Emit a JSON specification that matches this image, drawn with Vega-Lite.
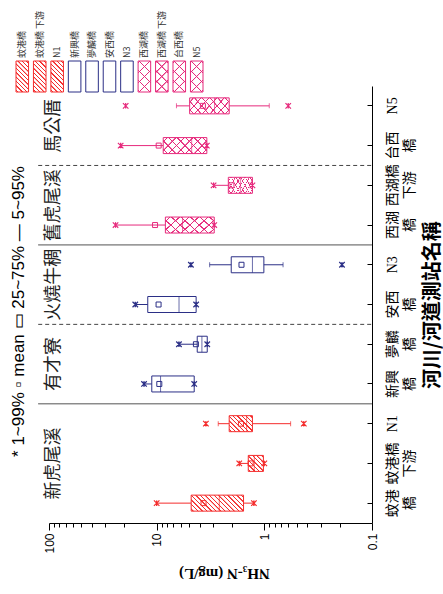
{
"$schema":"https://vega.github.io/schema/vega-lite/v6.json",
"width":323,"height":437,"autosize":"none",
"padding":{"left":49,"top":86,"right":71,"bottom":71},
"background":"white",
"config":{"view":{"stroke":null}},
"title":{"text":"*  1~99%   ▫ mean   ▭ 25~75%   — 5~95%","orient":"left","anchor":"middle","frame":"group","font":"Liberation Sans","fontSize":17,"fontWeight":"normal","color":"#000","offset":-12,"dx":-7},
"datasets":{
"box":[
{"station":"蚊港橋","grp":"red","p1":1.25,"p5":1.25,"q1":1.56,"med":2.62,"q3":4.78,"p95":10,"p99":10,"mean":3.67},
{"station":"蚊港橋下游","grp":"red","p1":1.0,"p5":1.02,"q1":1.02,"med":1.24,"q3":1.41,"p95":1.71,"p99":1.71,"mean":1.34},
{"station":"N1","grp":"red","p1":0.43,"p5":0.57,"q1":1.29,"med":1.46,"q3":2.12,"p95":2.68,"p99":3.49,"mean":1.65},
{"station":"新興橋","grp":"blue","p1":4.48,"p5":4.48,"q1":4.48,"med":9.2,"q3":11.1,"p95":13.1,"p99":13.1,"mean":9.45},
{"station":"夢麟橋","grp":"blue","p1":3.39,"p5":3.39,"q1":3.39,"med":3.8,"q3":4.2,"p95":6.21,"p99":6.21,"mean":4.32},
{"station":"安西橋","grp":"blue","p1":4.3,"p5":4.3,"q1":4.3,"med":6.2,"q3":12.1,"p95":15.8,"p99":15.8,"mean":9.6},
{"station":"N3","grp":"blue","p1":0.19,"p5":0.67,"q1":1.01,"med":1.29,"q3":2.03,"p95":3.22,"p99":4.81,"mean":1.63},
{"station":"西湖橋","grp":"pink","p1":2.92,"p5":2.92,"q1":2.92,"med":5.75,"q3":8.3,"p95":24.1,"p99":24.1,"mean":10.35},
{"station":"西湖橋下游","grp":"pink","p1":1.29,"p5":1.29,"q1":1.29,"med":1.67,"q3":2.16,"p95":2.96,"p99":2.96,"mean":2.02},
{"station":"台西橋","grp":"pink","p1":3.42,"p5":3.42,"q1":3.42,"med":4.73,"q3":8.69,"p95":21.6,"p99":21.6,"mean":9.58},
{"station":"N5","grp":"pink","p1":0.6,"p5":0.9,"q1":2.12,"med":2.9,"q3":4.94,"p95":6.55,"p99":19.4,"mean":3.72}
],
"groups":[
{"label":"新虎尾溪","at":"蚊港橋下游"},
{"label":"有才寮","at":"新興橋"},
{"label":"火燒牛稠","at":"安西橋"},
{"label":"舊虎尾溪","at":"西湖橋"},
{"label":"馬公厝","at":"台西橋"}
],
"seps":[
{"at":"N1","style":"solid"},
{"at":"夢麟橋","style":"dashed"},
{"at":"N3","style":"solid"},
{"at":"西湖橋下游","style":"dashed"}
]
},
"layer":[
{"data":{"name":"box"},
"layer":[
{"mark":{"type":"rule","strokeWidth":1},
"encoding":{
"y":{"field":"station","type":"nominal","scale":{"domain":["N5","台西橋","西湖橋下游","西湖橋","N3","安西橋","夢麟橋","新興橋","N1","蚊港橋下游","蚊港橋"],"paddingInner":0,"paddingOuter":0},
"axis":{"orient":"right","title":"河川/河道測站名稱","titleAngle":270,"titleBaseline":"top","titleAlign":"center","titleFont":"Noto Sans CJK TC","titleFontSize":20,"titleFontWeight":"bold","titleColor":"#000","titlePadding":6,
"labelExpr":"length(datum.label)==3?[substring(datum.label,0,2),substring(datum.label,2)]:length(datum.label)==5?[substring(datum.label,0,3),substring(datum.label,3)]:datum.label",
"labelAngle":270,"labelAlign":"center","labelBaseline":"top","labelLineHeight":17,"labelFontSize":14,
"labelFont":{"condition":{"test":"indexof(datum.value,'N')==0","value":"Liberation Serif"},"value":"Noto Sans CJK TC"},
"labelColor":"#000","labelPadding":18,"tickSize":-5,"tickColor":"#000","domainColor":"#000","labelOverlap":false}},
"x":{"field":"p5","type":"quantitative","scale":{"type":"log","domain":[0.1,100],"reverse":true,"nice":false},
"axis":{"title":"NH₃-N (mg/L)","values":[0.1,0.2,0.3,0.4,0.5,0.6,0.7,0.8,0.9,1,2,3,4,5,6,7,8,9,10,20,30,40,50,60,70,80,90,100],"format":"~g",
"labelExpr":"(datum.value==0.1||datum.value==1||datum.value==10||datum.value==100)?datum.label:''",
"labelAngle":270,"labelAlign":"right","labelBaseline":"middle","labelFont":"Liberation Sans","labelFontSize":12,"labelColor":"#000","labelPadding":3,"labelOverlap":false,"labelFlush":false,
"tickColor":"#000","tickSize":{"condition":{"test":"datum.value==0.1||datum.value==1||datum.value==10||datum.value==100","value":7},"value":4},
"domainColor":"#000","grid":false,
"titleFont":"Liberation Serif","titleFontSize":15,"titleFontWeight":"bold","titleColor":"#000","titleAngle":180,"titleBaseline":"bottom","titlePadding":12,"titleX":175}},
"x2":{"field":"p95"},
"color":{"field":"grp","type":"nominal","scale":{"domain":["red","blue","pink"],"range":["#f42c2c","#2b2f86","#e62a7c"]},"legend":null}}},
{"mark":{"type":"bar","size":16,"fill":"#ffffff","stroke":null},
"encoding":{"y":{"field":"station","type":"nominal"},"x":{"field":"q1","type":"quantitative"},"x2":{"field":"q3"}}},
{"transform":[{"filter":"datum.station=='蚊港橋'"}],
"mark":{"type":"bar","size":16,"stroke":null,"fill":{"gradient":"linear","x1":0,"y1":1,"x2":1.194,"y2":0.635,"stops":[
{"offset":0.0216,"color":"#fff"},{"offset":0.026,"color":"#f42c2c"},{"offset":0.0406,"color":"#f42c2c"},{"offset":0.045,"color":"#fff"},
{"offset":0.0883,"color":"#fff"},{"offset":0.0927,"color":"#f42c2c"},{"offset":0.1073,"color":"#f42c2c"},{"offset":0.1117,"color":"#fff"},
{"offset":0.155,"color":"#fff"},{"offset":0.1594,"color":"#f42c2c"},{"offset":0.174,"color":"#f42c2c"},{"offset":0.1784,"color":"#fff"},
{"offset":0.2216,"color":"#fff"},{"offset":0.226,"color":"#f42c2c"},{"offset":0.2406,"color":"#f42c2c"},{"offset":0.245,"color":"#fff"},
{"offset":0.2883,"color":"#fff"},{"offset":0.2927,"color":"#f42c2c"},{"offset":0.3073,"color":"#f42c2c"},{"offset":0.3117,"color":"#fff"},
{"offset":0.355,"color":"#fff"},{"offset":0.3594,"color":"#f42c2c"},{"offset":0.374,"color":"#f42c2c"},{"offset":0.3784,"color":"#fff"},
{"offset":0.4216,"color":"#fff"},{"offset":0.426,"color":"#f42c2c"},{"offset":0.4406,"color":"#f42c2c"},{"offset":0.445,"color":"#fff"},
{"offset":0.4883,"color":"#fff"},{"offset":0.4927,"color":"#f42c2c"},{"offset":0.5073,"color":"#f42c2c"},{"offset":0.5117,"color":"#fff"},
{"offset":0.555,"color":"#fff"},{"offset":0.5594,"color":"#f42c2c"},{"offset":0.574,"color":"#f42c2c"},{"offset":0.5784,"color":"#fff"},
{"offset":0.6216,"color":"#fff"},{"offset":0.626,"color":"#f42c2c"},{"offset":0.6406,"color":"#f42c2c"},{"offset":0.645,"color":"#fff"},
{"offset":0.6883,"color":"#fff"},{"offset":0.6927,"color":"#f42c2c"},{"offset":0.7073,"color":"#f42c2c"},{"offset":0.7117,"color":"#fff"},
{"offset":0.755,"color":"#fff"},{"offset":0.7594,"color":"#f42c2c"},{"offset":0.774,"color":"#f42c2c"},{"offset":0.7784,"color":"#fff"},
{"offset":0.8216,"color":"#fff"},{"offset":0.826,"color":"#f42c2c"},{"offset":0.8406,"color":"#f42c2c"},{"offset":0.845,"color":"#fff"},
{"offset":0.8883,"color":"#fff"},{"offset":0.8927,"color":"#f42c2c"},{"offset":0.9073,"color":"#f42c2c"},{"offset":0.9117,"color":"#fff"},
{"offset":0.955,"color":"#fff"},{"offset":0.9594,"color":"#f42c2c"},{"offset":0.974,"color":"#f42c2c"},{"offset":0.9784,"color":"#fff"}]}},
"encoding":{"y":{"field":"station","type":"nominal"},"x":{"field":"q1","type":"quantitative"},"x2":{"field":"q3"}}},
{"transform":[{"filter":"datum.station=='蚊港橋下游'"}],
"mark":{"type":"bar","size":16,"stroke":null,"fill":{"gradient":"linear","x1":0,"y1":1,"x2":0.97,"y2":-0.028,"stops":[
{"offset":0.0457,"color":"#fff"},{"offset":0.0553,"color":"#f42c2c"},{"offset":0.0875,"color":"#f42c2c"},{"offset":0.0971,"color":"#fff"},
{"offset":0.1886,"color":"#fff"},{"offset":0.1982,"color":"#f42c2c"},{"offset":0.2304,"color":"#f42c2c"},{"offset":0.24,"color":"#fff"},
{"offset":0.3314,"color":"#fff"},{"offset":0.341,"color":"#f42c2c"},{"offset":0.3732,"color":"#f42c2c"},{"offset":0.3828,"color":"#fff"},
{"offset":0.4743,"color":"#fff"},{"offset":0.4839,"color":"#f42c2c"},{"offset":0.5161,"color":"#f42c2c"},{"offset":0.5257,"color":"#fff"},
{"offset":0.6172,"color":"#fff"},{"offset":0.6268,"color":"#f42c2c"},{"offset":0.659,"color":"#f42c2c"},{"offset":0.6686,"color":"#fff"},
{"offset":0.76,"color":"#fff"},{"offset":0.7696,"color":"#f42c2c"},{"offset":0.8018,"color":"#f42c2c"},{"offset":0.8114,"color":"#fff"},
{"offset":0.9029,"color":"#fff"},{"offset":0.9125,"color":"#f42c2c"},{"offset":0.9447,"color":"#f42c2c"},{"offset":0.9543,"color":"#fff"}]}},
"encoding":{"y":{"field":"station","type":"nominal"},"x":{"field":"q1","type":"quantitative"},"x2":{"field":"q3"}}},
{"transform":[{"filter":"datum.station=='N1'"}],
"mark":{"type":"bar","size":16,"stroke":null,"fill":{"gradient":"linear","x1":0,"y1":1,"x2":1.145,"y2":0.21,"stops":[
{"offset":0.0352,"color":"#fff"},{"offset":0.0428,"color":"#f42c2c"},{"offset":0.0684,"color":"#f42c2c"},{"offset":0.076,"color":"#fff"},
{"offset":0.1463,"color":"#fff"},{"offset":0.1539,"color":"#f42c2c"},{"offset":0.1795,"color":"#f42c2c"},{"offset":0.1871,"color":"#fff"},
{"offset":0.2574,"color":"#fff"},{"offset":0.265,"color":"#f42c2c"},{"offset":0.2906,"color":"#f42c2c"},{"offset":0.2982,"color":"#fff"},
{"offset":0.3685,"color":"#fff"},{"offset":0.3761,"color":"#f42c2c"},{"offset":0.4017,"color":"#f42c2c"},{"offset":0.4093,"color":"#fff"},
{"offset":0.4796,"color":"#fff"},{"offset":0.4872,"color":"#f42c2c"},{"offset":0.5128,"color":"#f42c2c"},{"offset":0.5204,"color":"#fff"},
{"offset":0.5907,"color":"#fff"},{"offset":0.5983,"color":"#f42c2c"},{"offset":0.6239,"color":"#f42c2c"},{"offset":0.6315,"color":"#fff"},
{"offset":0.7018,"color":"#fff"},{"offset":0.7094,"color":"#f42c2c"},{"offset":0.735,"color":"#f42c2c"},{"offset":0.7426,"color":"#fff"},
{"offset":0.8129,"color":"#fff"},{"offset":0.8205,"color":"#f42c2c"},{"offset":0.8461,"color":"#f42c2c"},{"offset":0.8537,"color":"#fff"},
{"offset":0.924,"color":"#fff"},{"offset":0.9316,"color":"#f42c2c"},{"offset":0.9572,"color":"#f42c2c"},{"offset":0.9648,"color":"#fff"}]}},
"encoding":{"y":{"field":"station","type":"nominal"},"x":{"field":"q1","type":"quantitative"},"x2":{"field":"q3"}}},
{"transform":[{"filter":"datum.grp=='pink'"}],
"mark":{"type":"bar","size":16,"stroke":null,"fill":{"gradient":"linear","x1":0,"y1":1,"x2":1.204,"y2":0.562,"stops":[
{"offset":0.0581,"color":"#fff"},{"offset":0.0631,"color":"#e62a7c"},{"offset":0.0797,"color":"#e62a7c"},{"offset":0.0847,"color":"#fff"},
{"offset":0.201,"color":"#fff"},{"offset":0.206,"color":"#e62a7c"},{"offset":0.2226,"color":"#e62a7c"},{"offset":0.2276,"color":"#fff"},
{"offset":0.3438,"color":"#fff"},{"offset":0.3488,"color":"#e62a7c"},{"offset":0.3654,"color":"#e62a7c"},{"offset":0.3704,"color":"#fff"},
{"offset":0.4867,"color":"#fff"},{"offset":0.4917,"color":"#e62a7c"},{"offset":0.5083,"color":"#e62a7c"},{"offset":0.5133,"color":"#fff"},
{"offset":0.6296,"color":"#fff"},{"offset":0.6346,"color":"#e62a7c"},{"offset":0.6512,"color":"#e62a7c"},{"offset":0.6562,"color":"#fff"},
{"offset":0.7724,"color":"#fff"},{"offset":0.7774,"color":"#e62a7c"},{"offset":0.794,"color":"#e62a7c"},{"offset":0.799,"color":"#fff"},
{"offset":0.9153,"color":"#fff"},{"offset":0.9203,"color":"#e62a7c"},{"offset":0.9369,"color":"#e62a7c"},{"offset":0.9419,"color":"#fff"}]}},
"encoding":{"y":{"field":"station","type":"nominal"},"x":{"field":"q1","type":"quantitative"},"x2":{"field":"q3"}}},
{"transform":[{"filter":"datum.grp=='pink'"}],
"mark":{"type":"bar","size":16,"stroke":null,"fill":{"gradient":"linear","x1":0,"y1":0,"x2":1.204,"y2":0.438,"stops":[
{"offset":0.0581,"color":"rgba(230,42,124,0)"},{"offset":0.0631,"color":"#e62a7c"},{"offset":0.0797,"color":"#e62a7c"},{"offset":0.0847,"color":"rgba(230,42,124,0)"},
{"offset":0.201,"color":"rgba(230,42,124,0)"},{"offset":0.206,"color":"#e62a7c"},{"offset":0.2226,"color":"#e62a7c"},{"offset":0.2276,"color":"rgba(230,42,124,0)"},
{"offset":0.3438,"color":"rgba(230,42,124,0)"},{"offset":0.3488,"color":"#e62a7c"},{"offset":0.3654,"color":"#e62a7c"},{"offset":0.3704,"color":"rgba(230,42,124,0)"},
{"offset":0.4867,"color":"rgba(230,42,124,0)"},{"offset":0.4917,"color":"#e62a7c"},{"offset":0.5083,"color":"#e62a7c"},{"offset":0.5133,"color":"rgba(230,42,124,0)"},
{"offset":0.6296,"color":"rgba(230,42,124,0)"},{"offset":0.6346,"color":"#e62a7c"},{"offset":0.6512,"color":"#e62a7c"},{"offset":0.6562,"color":"rgba(230,42,124,0)"},
{"offset":0.7724,"color":"rgba(230,42,124,0)"},{"offset":0.7774,"color":"#e62a7c"},{"offset":0.794,"color":"#e62a7c"},{"offset":0.799,"color":"rgba(230,42,124,0)"},
{"offset":0.9153,"color":"rgba(230,42,124,0)"},{"offset":0.9203,"color":"#e62a7c"},{"offset":0.9369,"color":"#e62a7c"},{"offset":0.9419,"color":"rgba(230,42,124,0)"}]}},
"encoding":{"y":{"field":"station","type":"nominal"},"x":{"field":"q1","type":"quantitative"},"x2":{"field":"q3"}}},
{"mark":{"type":"bar","size":16,"filled":false,"strokeWidth":1},
"encoding":{"y":{"field":"station","type":"nominal"},"x":{"field":"q1","type":"quantitative"},"x2":{"field":"q3"},"color":{"field":"grp","type":"nominal","legend":null}}},
{"mark":{"type":"tick","size":16,"thickness":1},
"encoding":{"y":{"field":"station","type":"nominal"},"x":{"field":"med","type":"quantitative"},"color":{"field":"grp","type":"nominal","legend":null}}},
{"transform":[{"fold":["p5","p95"],"as":["k","v"]}],
"mark":{"type":"tick","size":5,"thickness":1},
"encoding":{"y":{"field":"station","type":"nominal"},"x":{"field":"v","type":"quantitative"},"color":{"field":"grp","type":"nominal","legend":null}}},
{"mark":{"type":"point","shape":"square","size":25,"filled":false,"strokeWidth":1,"opacity":1},
"encoding":{"y":{"field":"station","type":"nominal"},"x":{"field":"mean","type":"quantitative"},"color":{"field":"grp","type":"nominal","legend":null}}},
{"transform":[{"fold":["p1","p99"],"as":["k","v"]}],
"mark":{"type":"point","shape":"M-1,-1L1,1M-1,1L1,-1M0,-1L0,1","size":30,"filled":false,"strokeWidth":1.2,"opacity":1},
"encoding":{"y":{"field":"station","type":"nominal"},"x":{"field":"v","type":"quantitative"},"color":{"field":"grp","type":"nominal","legend":null}}},
{"data":{"name":"seps"},
"mark":{"type":"rule","strokeWidth":1,"color":"#444"},
"encoding":{"y":{"field":"at","type":"nominal","bandPosition":0},"x":{"datum":126},"x2":{"datum":0.1},
"strokeDash":{"field":"style","type":"nominal","scale":{"domain":["solid","dashed"],"range":[[1,0],[4,3]]},"legend":null}}},
{"data":{"name":"groups"},"transform":[{"filter":"datum.label!='新虎尾溪'"}],
"mark":{"type":"text","angle":270,"font":"Noto Sans CJK TC","fontSize":18,"align":"center","baseline":"middle","color":"#222"},
"encoding":{"y":{"field":"at","type":"nominal","bandPosition":0},"x":{"datum":90},"text":{"field":"label"}}},
{"data":{"name":"groups"},"transform":[{"filter":"datum.label=='新虎尾溪'"}],
"mark":{"type":"text","angle":270,"font":"Noto Sans CJK TC","fontSize":18,"align":"center","baseline":"middle","color":"#222"},
"encoding":{"y":{"field":"at","type":"nominal","bandPosition":0.5},"x":{"datum":90},"text":{"field":"label"}}}
]},
{"data":{"name":"box"},
"transform":[{"calculate":"length(datum.station)==5?substring(datum.station,0,3)+'  '+substring(datum.station,3):datum.station","as":"lab"}],
"layer":[
{"mark":{"type":"rect","fill":"#ffffff","stroke":null},
"encoding":{"x":{"field":"station","type":"nominal","scale":{"domain":["蚊港橋","蚊港橋下游","N1","新興橋","夢麟橋","安西橋","N3","西湖橋","西湖橋下游","台西橋","N5"],"range":[-33,154],"paddingInner":0.28,"paddingOuter":0},"axis":null},
"y":{"datum":0,"type":"quantitative","scale":{"domain":[0,1],"range":[6,-25]},"axis":null},"y2":{"datum":1}}},
{"transform":[{"filter":"datum.grp=='red'"}],
"mark":{"type":"rect","stroke":null,"fill":{"gradient":"linear","x1":0,"y1":1,"x2":0.489,"y2":-0.207,"stops":[
{"offset":0.0316,"color":"#fff"},{"offset":0.0385,"color":"#f42c2c"},{"offset":0.0615,"color":"#f42c2c"},{"offset":0.0684,"color":"#fff"},
{"offset":0.1316,"color":"#fff"},{"offset":0.1385,"color":"#f42c2c"},{"offset":0.1615,"color":"#f42c2c"},{"offset":0.1684,"color":"#fff"},
{"offset":0.2316,"color":"#fff"},{"offset":0.2385,"color":"#f42c2c"},{"offset":0.2615,"color":"#f42c2c"},{"offset":0.2684,"color":"#fff"},
{"offset":0.3316,"color":"#fff"},{"offset":0.3385,"color":"#f42c2c"},{"offset":0.3615,"color":"#f42c2c"},{"offset":0.3684,"color":"#fff"},
{"offset":0.4316,"color":"#fff"},{"offset":0.4385,"color":"#f42c2c"},{"offset":0.4615,"color":"#f42c2c"},{"offset":0.4684,"color":"#fff"},
{"offset":0.5316,"color":"#fff"},{"offset":0.5385,"color":"#f42c2c"},{"offset":0.5615,"color":"#f42c2c"},{"offset":0.5684,"color":"#fff"},
{"offset":0.6316,"color":"#fff"},{"offset":0.6385,"color":"#f42c2c"},{"offset":0.6615,"color":"#f42c2c"},{"offset":0.6684,"color":"#fff"},
{"offset":0.7316,"color":"#fff"},{"offset":0.7385,"color":"#f42c2c"},{"offset":0.7615,"color":"#f42c2c"},{"offset":0.7684,"color":"#fff"},
{"offset":0.8316,"color":"#fff"},{"offset":0.8385,"color":"#f42c2c"},{"offset":0.8615,"color":"#f42c2c"},{"offset":0.8684,"color":"#fff"},
{"offset":0.9316,"color":"#fff"},{"offset":0.9385,"color":"#f42c2c"},{"offset":0.9615,"color":"#f42c2c"},{"offset":0.9684,"color":"#fff"}]}},
"encoding":{"x":{"field":"station","type":"nominal"},"y":{"datum":0,"type":"quantitative"},"y2":{"datum":1}}},
{"transform":[{"filter":"datum.grp=='pink'"}],
"mark":{"type":"rect","stroke":null,"fill":{"gradient":"linear","x1":0,"y1":1,"x2":0.489,"y2":-0.207,"stops":[
{"offset":0.0225,"color":"#fff"},{"offset":0.0294,"color":"#e62a7c"},{"offset":0.0524,"color":"#e62a7c"},{"offset":0.0593,"color":"#fff"},
{"offset":0.252,"color":"#fff"},{"offset":0.2589,"color":"#e62a7c"},{"offset":0.2819,"color":"#e62a7c"},{"offset":0.2888,"color":"#fff"},
{"offset":0.4816,"color":"#fff"},{"offset":0.4885,"color":"#e62a7c"},{"offset":0.5115,"color":"#e62a7c"},{"offset":0.5184,"color":"#fff"},
{"offset":0.7112,"color":"#fff"},{"offset":0.7181,"color":"#e62a7c"},{"offset":0.7411,"color":"#e62a7c"},{"offset":0.748,"color":"#fff"},
{"offset":0.9407,"color":"#fff"},{"offset":0.9476,"color":"#e62a7c"},{"offset":0.9706,"color":"#e62a7c"},{"offset":0.9775,"color":"#fff"}]}},
"encoding":{"x":{"field":"station","type":"nominal"},"y":{"datum":0,"type":"quantitative"},"y2":{"datum":1}}},
{"transform":[{"filter":"datum.grp=='pink'"}],
"mark":{"type":"rect","stroke":null,"fill":{"gradient":"linear","x1":0,"y1":0,"x2":0.489,"y2":1.207,"stops":[
{"offset":0.0225,"color":"rgba(230,42,124,0)"},{"offset":0.0294,"color":"#e62a7c"},{"offset":0.0524,"color":"#e62a7c"},{"offset":0.0593,"color":"rgba(230,42,124,0)"},
{"offset":0.252,"color":"rgba(230,42,124,0)"},{"offset":0.2589,"color":"#e62a7c"},{"offset":0.2819,"color":"#e62a7c"},{"offset":0.2888,"color":"rgba(230,42,124,0)"},
{"offset":0.4816,"color":"rgba(230,42,124,0)"},{"offset":0.4885,"color":"#e62a7c"},{"offset":0.5115,"color":"#e62a7c"},{"offset":0.5184,"color":"rgba(230,42,124,0)"},
{"offset":0.7112,"color":"rgba(230,42,124,0)"},{"offset":0.7181,"color":"#e62a7c"},{"offset":0.7411,"color":"#e62a7c"},{"offset":0.748,"color":"rgba(230,42,124,0)"},
{"offset":0.9407,"color":"rgba(230,42,124,0)"},{"offset":0.9476,"color":"#e62a7c"},{"offset":0.9706,"color":"#e62a7c"},{"offset":0.9775,"color":"rgba(230,42,124,0)"}]}},
"encoding":{"x":{"field":"station","type":"nominal"},"y":{"datum":0,"type":"quantitative"},"y2":{"datum":1}}},
{"mark":{"type":"rect","filled":false,"strokeWidth":1},
"encoding":{"x":{"field":"station","type":"nominal"},"y":{"datum":0,"type":"quantitative"},"y2":{"datum":1},"color":{"field":"grp","type":"nominal","legend":null}}},
{"mark":{"type":"text","angle":270,"font":"Noto Sans CJK TC","fontSize":9,"align":"left","baseline":"middle","color":"#333"},
"encoding":{"x":{"field":"station","type":"nominal"},"y":{"datum":1.1,"type":"quantitative"},"text":{"field":"lab"}}}
]}
],
"resolve":{"scale":{"x":"independent","y":"independent"}}
}
